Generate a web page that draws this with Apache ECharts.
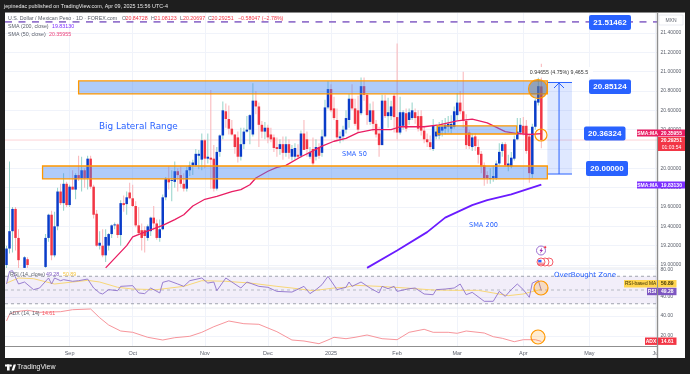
<!DOCTYPE html>
<html><head><meta charset="utf-8">
<style>html,body{margin:0;padding:0;background:#1e1e1e}#c{width:690px;height:374px}</style>
<script src="https://cdn.jsdelivr.net/npm/echarts@6/dist/echarts.min.js"></script>
</head><body><div id="c"></div>
<script>
// open, close, high, low for each trading day, oldest first
const candles = [
[19.0,19.17,19.2,18.95],[19.17,19.35,20.07,19.12],[19.35,19.58,19.6,19.13],[19.58,19.28,19.6,19.15],[19.28,19.05,19.37,18.97],
[18.96,18.9,18.96,18.85],[18.97,19.08,19.09,18.95],[19.06,19.0,19.08,18.95],[18.95,18.9,18.96,18.85],[18.9,18.85,18.92,18.8],
[18.86,18.9,18.92,18.82],[18.9,18.94,18.96,18.87],[18.94,18.96,18.965,18.9],[18.98,19.28,19.32,18.97],[19.28,19.52,19.53,19.24],
[19.52,19.1,19.56,19.05],[19.1,19.4,19.55,19.08],[19.4,19.76,19.8,19.36],[19.76,19.64,19.84,19.62],[19.64,19.84,19.95,19.56],
[19.84,19.62,19.86,19.6],[19.62,19.81,19.83,19.6],[19.81,19.78,19.98,19.78],[19.78,19.93,19.95,19.68],[19.93,19.9,20.13,19.87],
[19.9,19.98,20.12,19.76],[19.98,19.9,20.0,19.8],[19.9,20.1,20.13,19.78],[20.1,19.81,20.13,19.79],[19.81,19.52,19.83,19.48],
[19.53,19.2,19.57,19.19],[19.2,19.23,19.35,19.16],[19.2,19.1,19.37,19.08],[19.1,19.29,19.37,19.03],[19.2,19.32,19.33,19.15],
[19.32,19.41,19.42,19.28],[19.41,19.42,19.44,19.37],[19.42,19.31,19.43,19.28],[19.31,19.64,19.67,19.2],[19.64,19.62,19.72,19.55],
[19.63,19.7,19.76,19.52],[19.75,19.69,19.85,19.68],[19.69,19.61,19.83,19.6],[19.61,19.41,19.66,19.39],[19.41,19.33,19.6,19.31],
[19.36,19.28,19.43,19.15],[19.36,19.3,19.4,19.13],[19.28,19.4,19.42,19.25],[19.35,19.49,19.5,19.3],[19.49,19.43,19.61,19.36],
[19.43,19.28,19.47,19.26],[19.28,19.37,19.47,19.24],[19.37,19.7,19.73,19.36],[19.7,19.89,19.91,19.67],[19.89,19.855,20.02,19.78],
[19.87,19.88,19.98,19.66],[19.86,19.97,20.07,19.8],[19.97,19.93,20.0,19.76],[19.93,19.84,20.02,19.8],[19.84,19.79,19.95,19.76],
[19.79,19.98,20.02,19.76],[19.98,20.03,20.07,19.92],[20.03,20.06,20.09,19.93],[20.03,20.15,20.2,20.02],[20.13,20.15,20.19,19.99],
[20.09,20.29,20.36,19.98],[20.29,20.1,20.3,20.0],[20.1,20.12,20.36,20.05],[20.11,20.09,20.81,19.79],[20.1,19.79,20.24,19.76],
[19.79,20.17,20.22,19.77],[20.17,20.34,20.35,20.12],[20.34,20.6,20.69,20.3],[20.59,20.51,20.67,20.42],[20.51,20.41,20.65,20.35],
[20.41,20.35,20.5,20.34],[20.35,20.22,20.35,20.15],[20.32,20.12,20.38,20.06],[20.12,20.25,20.42,20.08],[20.25,20.38,20.42,20.2],
[20.38,20.4,20.54,20.37],[20.4,20.55,20.56,20.25],[20.35,20.7,20.88,20.33],[20.7,20.64,20.8,20.56],[20.64,20.45,20.68,20.22],
[20.45,20.38,20.49,20.31],[20.38,20.42,20.48,20.3],[20.42,20.32,20.45,20.26],[20.35,20.3,20.42,20.27],[20.32,20.21,20.35,20.17],
[20.22,20.2,20.32,20.12],[20.2,20.25,20.3,20.14],[20.25,20.16,20.33,20.09],[20.16,20.25,20.33,20.12],[20.25,20.16,20.3,20.1],
[20.12,20.2,20.24,20.08],[20.12,20.21,20.26,20.09],[20.14,20.12,20.25,20.1],[20.13,20.36,20.39,20.11],[20.36,20.19,20.5,20.19],
[20.3,20.2,20.38,20.12],[20.12,20.17,20.22,20.1],[20.2,20.05,20.32,20.03],[20.12,20.22,20.3,20.08],[20.22,20.13,20.26,20.1],
[20.16,20.33,20.4,20.12],[20.33,20.63,20.71,20.32],[20.63,20.82,20.9,20.61],[20.82,20.6,20.87,20.58],[20.62,20.52,20.74,20.5],
[20.5,20.32,20.62,20.28],[20.31,20.33,20.38,20.26],[20.33,20.4,20.44,20.28],[20.4,20.52,20.6,20.36],[20.5,20.72,20.77,20.42],
[20.72,20.62,20.87,20.6],[20.62,20.46,20.72,20.44],[20.6,20.4,20.75,20.37],[20.57,20.85,20.94,20.55],[20.85,20.76,20.94,20.7],
[20.76,20.55,20.78,20.45],[20.48,20.6,20.67,20.45],[20.6,20.46,20.69,20.38],[20.46,20.35,20.5,20.32],[20.36,20.24,20.43,20.12],
[20.24,20.7,20.76,20.24],[20.7,20.54,20.76,20.52],[20.54,20.58,20.73,20.42],[20.54,20.64,20.7,20.5],[20.75,20.53,20.77,20.37],
[20.53,20.37,21.29,20.3],[20.37,20.58,20.74,20.35],[20.44,20.58,20.6,20.4],[20.57,20.41,20.62,20.38],[20.5,20.58,20.62,20.45],
[20.52,20.6,20.68,20.5],[20.58,20.52,20.62,20.46],[20.54,20.41,20.6,20.38],[20.54,20.39,20.6,20.34],[20.39,20.3,20.44,20.26],
[20.3,20.27,20.36,20.22],[20.27,20.22,20.34,20.19],[20.2,20.44,20.51,20.18],[20.33,20.38,20.45,20.3],[20.34,20.43,20.48,20.3],
[20.39,20.43,20.5,20.33],[20.41,20.45,20.52,20.35],[20.43,20.46,20.54,20.37],[20.41,20.46,20.55,20.36],[20.43,20.59,20.64,20.41],
[20.55,20.68,20.78,20.5],[20.68,20.59,20.8,20.56],[20.59,20.49,21.0,20.42],[20.49,20.24,20.56,20.2],[20.37,20.23,20.4,20.2],
[20.22,20.32,20.36,20.18],[20.33,20.23,20.36,20.18],[20.22,20.14,20.3,20.05],[20.15,20.02,20.18,19.95],[20.03,19.9,20.06,19.82],
[19.93,19.9,19.97,19.84],[19.89,19.9,20.0,19.84],[19.9,19.92,20.03,19.86],[19.9,20.05,20.08,19.88],[20.05,20.17,20.26,20.03],
[20.18,20.25,20.27,20.12],[20.25,20.03,20.27,20.02],[20.02,20.05,20.14,19.97],[20.02,20.11,20.17,20.0],[20.1,20.3,20.34,20.08],
[20.3,20.38,20.52,20.29],[20.37,20.45,20.52,20.35],[20.44,20.36,20.53,20.34],[20.44,20.18,20.5,20.15],[20.33,19.95,20.36,19.85],
[19.94,20.43,20.46,19.9],[20.43,20.7,20.72,20.4],[20.68,20.85,20.94,20.65],[20.84728,20.29251,21.08123,20.20697]];

const sma50 = [[33,18.97],[40,19.2],[42,19.29],[46,19.34],[52,19.41],[56,19.47],[59,19.52],[62,19.61],[66,19.68],[70,19.71],[75,19.76],[78,19.78],[81,19.83],[83,19.9],[87,19.97],[90,20.01],[93,20.03],[98,20.12],[102,20.18],[105,20.23],[109,20.28],[113,20.31],[117,20.37],[122,20.4],[128,20.4],[131,20.43],[139,20.43],[144,20.45],[150,20.49],[155,20.51],[160,20.47],[166,20.38],[170,20.36],[174,20.35],[178,20.35955]];
const sma200 = [[120,18.97],[130,19.15],[140,19.34],[146,19.49],[155,19.62],[160,19.67],[168,19.73],[178,19.8313]];
const rsi = [[0,58.7],[1,77],[2,78],[4,58.7],[6,61.6],[9,50.5],[11,52.9],[14,67.4],[15,58.7],[16,67.4],[18,63.5],[19,65],[22,62.6],[24,63.5],[27,65.9],[29,52.9],[31,45.7],[32,44.2],[34,50.5],[37,49],[38,55.3],[42,56.3],[44,45.7],[46,44.7],[48,52.9],[51,45.7],[52,61.1],[54,63.5],[57,58.7],[59,55.3],[61,63.5],[65,67.4],[67,60.1],[69,61.6],[70,49],[73,67.4],[75,61.6],[78,52.9],[80,61.6],[84,55.3],[87,53.9],[90,48],[95,47],[99,55.3],[101,44.7],[103,50.5],[105,57.7],[107,69.8],[110,50.5],[113,53.9],[114,61.6],[115,55.3],[118,61.6],[121,52.9],[124,45.7],[125,55.3],[127,51.9],[129,55.3],[130,48],[134,51.9],[136,52.9],[139,44.2],[142,43.2],[143,50.5],[146,51.4],[149,52.9],[151,58.7],[153,43.2],[155,46.6],[159,33.6],[162,33.6],[164,48],[166,40.8],[168,50.5],[170,58.7],[172,50.5],[174,39.4],[175,60.1],[177,64],[178,49.28]];
const rsiMa = [[0,60],[4,67.4],[9,66.4],[16,58.7],[22,61.6],[27,64],[31,61.6],[37,53.9],[42,51.4],[50,50.5],[59,55.3],[65,63.5],[73,62.6],[81,60.1],[90,55.3],[95,52.9],[102,49],[109,52.9],[113,53.9],[116,56.8],[124,55.3],[133,52.9],[142,50],[150,49.5],[157,49.5],[162,45.7],[167,41.8],[172,44.2],[174,46.6],[178,50.89]];
const adx = [[0,35],[1,41.7],[3,44.3],[7,45.7],[11,43.7],[18,44.3],[22,46.3],[28,47],[31,38.3],[34,31],[38,25],[42,23.7],[47,18.7],[52,16],[56,18.3],[61,19.7],[65,23.7],[69,29.3],[74,35],[79,32.3],[84,31.7],[90,24.3],[95,16],[99,15],[104,12.3],[107,16],[109,18.7],[113,17.3],[116,18.7],[120,21],[125,17.3],[130,16.3],[134,23.7],[139,26.7],[142,23.7],[147,23.7],[150,22.7],[153,25],[159,23],[162,19.3],[165,17.7],[169,14.3],[172,16.3],[176,16.3],[178,14.61]];

const priceTicks = [19,19.2,19.4,19.6,19.8,20,20.2,20.4,20.6,20.8,21,21.2,21.4];
const rsiTicks = [40,80];
const adxTicks = [20,40];
const monthTicks = [21,42,66,87,108,130,150,172,194,216];
const monthLabels = ['Sep','Oct','Nov','Dec','2025','Feb','Mar','Apr','May','Ju'];
const rangeBoxes = [[24,180,20.77,20.904],[12,180,19.89,20.024],[143.4,169.8,20.355,20.44]];
const moveBox = [180,188.2,19.941,20.888];
const moveArrowX = 183.9;
const resistanceLevel = 21.51462;
const lastClose = 20.29251;
const rsiBand = [30,70];
const rsiMid = 50;

const X0=-0.5, X1=216.5, GREY='#f0f3fa', TXT='#5a5f6a', FF='"Liberation Sans",Arial,sans-serif';

function boxSeries(xi,yi,rows,fill,stroke,lw,z){
  return {type:'custom',xAxisIndex:xi,yAxisIndex:yi,z,silent:true,data:rows,clip:true,
    renderItem(p,api){
      const a=api.coord([api.value(0),api.value(3)]),b=api.coord([api.value(1),api.value(2)]);
      return {type:'rect',shape:{x:a[0],y:a[1],width:b[0]-a[0],height:b[1]-a[1]},style:{fill,stroke:stroke||'none',lineWidth:lw||0}};
    }};
}
function hLine(xi,yi,v,color,width,dash,z){
  return {type:'line',xAxisIndex:xi,yAxisIndex:yi,data:[[X0,v],[X1,v]],symbol:'none',silent:true,z,
    lineStyle:{color,width,type:dash||'solid'}};
}
function line(xi,yi,data,color,width,z){
  return {type:'line',xAxisIndex:xi,yAxisIndex:yi,data,symbol:'none',silent:true,z,smooth:false,lineStyle:{color,width}};
}
const candleSeries={type:'custom',xAxisIndex:0,yAxisIndex:0,z:3,silent:true,clip:true,
  data:candles.map((c,i)=>[i,...c]),
  renderItem(p,api){
    const i=api.value(0),o=api.value(1),c=api.value(2),h=api.value(3),l=api.value(4);
    const up=c>=o, x=api.coord([i,o])[0];
    const yo=api.coord([i,o])[1],yc=api.coord([i,c])[1],yh=api.coord([i,h])[1],yl=api.coord([i,l])[1];
    const top=Math.min(yo,yc),ht=Math.max(Math.abs(yo-yc),1);
    return {type:'group',children:[
      {type:'rect',shape:{x:x-0.5,y:yh,width:1,height:yl-yh},style:{fill:up?'#93d2c8':'#f9b4b8'}},
      {type:'rect',shape:{x:x-1.25,y:top,width:2.5,height:ht},style:{fill:up?'#0a3cc9':'#f23645'}}
    ]};
  }};

function yAxisOpt(gi,min,max,ticks,fmt){
  return {type:'value',gridIndex:gi,position:'right',min,max,scale:true,
    axisLine:{show:false},
    axisTick:{show:false,customValues:ticks},
    axisLabel:{show:true,customValues:ticks,formatter:fmt,color:TXT,fontSize:5,fontFamily:FF,margin:3.5,align:'left',verticalAlign:'middle'},
    splitLine:{show:true,lineStyle:{color:GREY,width:1}}};
}
function xAxisOpt(gi,labels){
  return {type:'value',gridIndex:gi,min:X0,max:X1,
    axisLine:{show:false},axisTick:{show:false,customValues:monthTicks},
    axisLabel:{show:labels,customValues:monthTicks,color:TXT,fontSize:5.5,fontFamily:FF,margin:4,
      formatter:v=>monthLabels[monthTicks.indexOf(v)]||''},
    splitLine:{show:true,lineStyle:{color:GREY,width:1}}};
}

// --- overlays ---
const g=[];
function T(x,y,text,fill,size,o){o=o||{};g.push({type:'text',x,y,silent:true,z:o.z||60,style:{text,fill,font:(o.weight||'normal')+' '+size+'px '+(o.ff||FF),align:o.align||'left',verticalAlign:'middle'}});}
function R(x,y,w,h,fill,o){o=o||{};g.push({type:'rect',silent:true,z:o.z||50,shape:{x,y,width:w,height:h,r:o.r||0},style:{fill,stroke:o.stroke||'none',lineWidth:o.lw||0}});}
function C(cx,cy,r,fill,stroke,lw,z){g.push({type:'circle',silent:true,z:z||40,shape:{cx,cy,r},style:{fill,stroke,lineWidth:lw}});}
function L(x1,y1,x2,y2,stroke,lw,z){g.push({type:'line',silent:true,z:z||45,shape:{x1,y1,x2,y2},style:{stroke,lineWidth:lw}});}
function P(points,fill,z){g.push({type:'polygon',silent:true,z:z||62,shape:{points},style:{fill}});}

// white panel
R(5,12,680,346,'#ffffff',{z:-10});
L(5,12.5,685,12.5,'#8a8a8a',1,2);
L(5,268,657,268,'#e6e8ee',1,2);
L(5,308,657,308,'#e6e8ee',1,2);
L(5,346.5,657,346.5,'#8f8f8f',1.2,20);
L(657.5,12,657.5,358,'#8f8f8f',1.4,20);

// header
T(4,7,'jepinedac published on TradingView.com, Apr 09, 2025 15:56 UTC-4','#e8e8e8',5.4);
T(8,19,'U.S. Dollar / Mexican Peso · 1D · FOREX.com',TXT,5.3);
T(122,19,'O',TXT,5.3);T(125.5,19,'20.84728','#f23645',5.3);
T(151,19,'H',TXT,5.3);T(154.5,19,'21.08123','#f23645',5.3);
T(180,19,'L',TXT,5.3);T(183,19,'20.20697','#f23645',5.3);
T(208,19,'C',TXT,5.3);T(211.5,19,'20.29251','#f23645',5.3);
T(238,19,'−0.58047 (−2.78%)','#f23645',5.3);
T(8,27,'SMA (200, close)',TXT,5.3);T(52,27,'19.83130','#7b2bff',5.3);
T(8,34.7,'SMA (50, close)',TXT,5.3);T(49,34.7,'20.35955','#ec407a',5.3);
T(10,275,'RSI (14, close)',TXT,5.3);T(46,275,'49.28','#7e57c2',5.3);T(63,275,'50.89','#f5c542',5.3);
T(9,314,'ADX (14, 14)',TXT,5.3);T(42,314,'14.61','#f7525f',5.3);

// blue level tags
function bluetag(x,y,w,h,s){R(x,y,w,h,'#2962ff',{r:2});T(x+w/2,y+h/2+0.3,s,'#ffffff',8,{align:'center',weight:'bold'});}
bluetag(589,15,42,15,'21.51462');
bluetag(589,79.5,42,14.5,'20.85124');
bluetag(584,126.5,41.5,14,'20.36324');
bluetag(586,161,42,15,'20.00000');

// annotations
const A='"DejaVu Sans",sans-serif';
T(99,127,'Big Lateral Range','#2962ff',8.9,{ff:A});
T(342,154,'SMA 50','#2962ff',6.6,{ff:A});
T(469,225,'SMA 200','#2962ff',6.6,{ff:A});
T(554,275,'OverBought Zone','#2962ff',7,{ff:A});
R(525,67,68,10.5,'#ffffff',{r:2,z:55});
T(559,72.3,'0.94655 (4.75%) 9,465.5','#333333',5.3,{align:'center',z:56});

// circles
C(538,89,9.5,'rgba(110,110,110,0.45)','#ff9800',1.2,40);
C(541,135,6,'rgba(255,152,0,0.05)','#ff9800',1.2,40);
C(541,288,7,'rgba(255,152,0,0.22)','#ff9800',1.2,40);
C(538,337,7,'rgba(255,152,0,0.18)','#ff9800',1.2,40);

// arrow head of the measuring tool
L(559,83,554,88,'#2962ff',1,41);L(559,83,564,88,'#2962ff',1,41);

// event icons
C(541,250.5,4.5,'#ffffff','#9c6fd1',1,30);
P([[542,247.5],[539.5,251],[541,251],[540,253.8],[543,250],[541.5,250]],'#9c27b0',31);
C(545.2,247.2,1,'#f23645','#f23645',0.3,32);
C(549,262,4,'#ffffff','#f23645',0.8,30);C(545,262,4,'#ffffff','#f23645',0.8,30);C(541,262,4,'#ffffff','#f23645',0.8,31);
R(538.2,259.8,3.3,2.6,'#2962ff',{z:32});
[[263.2],[264.6]].forEach(a=>L(538,a[0],544,a[0],'#f23645',0.7,32));

// price-scale tags
function pt(x,y,w,h,fill,s,col,o){R(x,y,w,h,fill,{z:70});T(x+w/2,y+h/2+0.2,s,col,o&&o.size||5,Object.assign({align:'center',weight:'bold',z:71},o||{}));}
R(659,15,24,10,'#ffffff',{stroke:'#e0e3eb',lw:0.7,z:52});T(671,20.2,'MXN',TXT,5,{align:'center'});
pt(637,129.5,21,7,'#e91e63','SMA:MA','#fff');pt(658,129.5,27,7,'#e91e63','20.35955','#fff');
R(658,137,27,14,'#f23645',{z:70});T(671.5,140.6,'20.29251','#fff',5,{align:'center',weight:'bold',z:71});T(671.5,147.3,'01:03:54','#fff',5,{align:'center',z:71});
pt(637,181.5,21,7,'#7c2fff','SMA:MA','#fff');pt(658,181.5,27,7,'#7c2fff','19.83130','#fff');
pt(624,280,33,7.4,'#ffd54f','RSI-based MA','#3a3000',{weight:'normal',size:4.8});pt(658,280,18.5,7.4,'#ffd54f','50.89','#3a3000');
pt(647,287.8,10,7.4,'#7e57c2','RSI','#fff');pt(658,287.8,18.5,7.4,'#7e57c2','49.28','#fff');
pt(645,337.5,12,7.4,'#f23645','ADX','#fff');pt(658,337.5,18.5,7.4,'#f23645','14.61','#fff');

// TradingView logo
R(5,364.5,4.6,2,'#ffffff');R(7,364.5,2.6,6,'#ffffff');C(10.8,365.6,1.1,'#ffffff','#ffffff',0.1,62);
P([[11.6,370.5],[13.6,364.5],[16,364.5],[14,370.5]],'#ffffff');
T(17,367.5,'TradingView','#f0f0f0',7,{weight:'normal'});

const grids=[
 {left:5,right:33,top:12,height:256},
 {left:5,right:33,top:268,height:40},
 {left:5,right:33,top:308,height:38}];

const option={
  animation:false,backgroundColor:'#1e1e1e',
  grid:grids,
  xAxis:[xAxisOpt(0,false),xAxisOpt(1,false),xAxisOpt(2,true)],
  yAxis:[
    yAxisOpt(0,18.969,21.617,priceTicks,v=>v.toFixed(5)),
    yAxisOpt(1,23.9,81.9,rsiTicks,v=>v.toFixed(2)),
    yAxisOpt(2,10,48,adxTicks,v=>v.toFixed(2))],
  graphic:{elements:g},
  series:[
    hLine(0,0,lastClose,'rgba(242,54,69,0.22)',1,'solid',2),
    hLine(0,0,resistanceLevel,'#9575cd',1.6,[7,6.5],3),
    candleSeries,
    line(0,0,sma50,'#e91e63',1.3,4),
    line(0,0,sma200,'#6a1bff',1.8,4),
    boxSeries(0,0,[moveBox],'rgba(41,98,255,0.15)',null,0,6),
    boxSeries(0,0,rangeBoxes,'rgba(66,133,244,0.42)','#ff9800',1.3,8),
    {type:'custom',xAxisIndex:0,yAxisIndex:0,z:7,silent:true,data:[[moveBox[0],moveBox[1],moveBox[2],moveBox[3],moveArrowX]],
      renderItem(p,api){
        const a=api.coord([api.value(0),api.value(3)]),b=api.coord([api.value(1),api.value(2)]),x=api.coord([api.value(4),20])[0];
        const st={stroke:'#2962ff',lineWidth:1};
        return {type:'group',children:[
          {type:'line',shape:{x1:a[0],y1:a[1],x2:b[0],y2:a[1]},style:st},
          {type:'line',shape:{x1:a[0],y1:b[1],x2:b[0],y2:b[1]},style:st},
          {type:'line',shape:{x1:x,y1:a[1],x2:x,y2:b[1]},style:st}]};
      }},
    boxSeries(1,1,[[X0,X1,rsiBand[0],rsiBand[1]]],'rgba(126,87,194,0.1)',null,0,1),
    hLine(1,1,rsiBand[1],'#8a8f9a',0.8,[3,3],2),
    hLine(1,1,rsiMid,'#a8acb6',0.8,[3,3],2),
    hLine(1,1,rsiBand[0],'#8a8f9a',0.8,[3,3],2),
    line(1,1,rsiMa,'#f8d777',1,3),
    line(1,1,rsi,'#8f72cc',0.9,4),
    line(2,2,adx,'#f7959b',1,3)
  ]
};
echarts.init(document.getElementById('c'),null,{renderer:'canvas'}).setOption(option);
</script></body></html>
